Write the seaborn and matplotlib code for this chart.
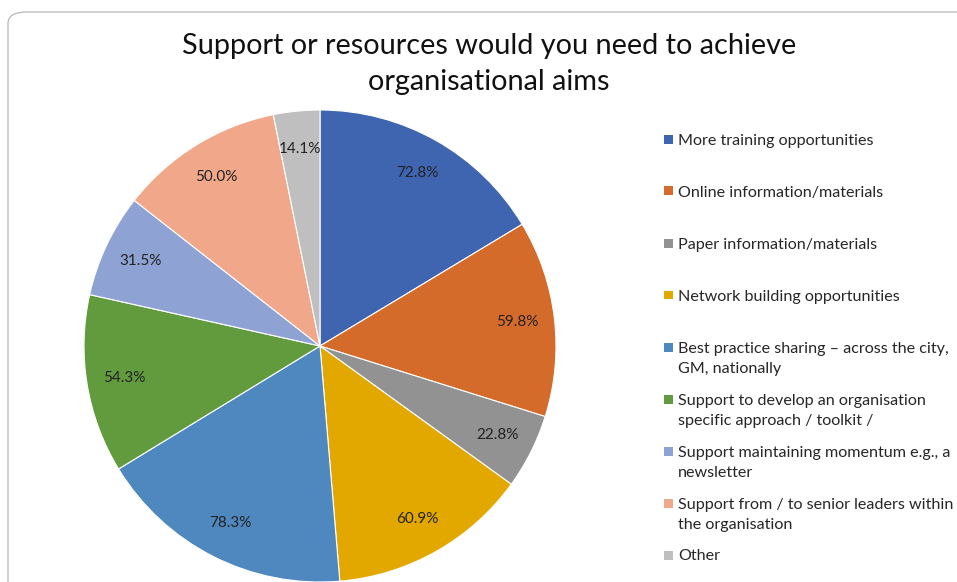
import matplotlib
matplotlib.use("Agg")
import matplotlib.pyplot as plt
from matplotlib.patches import FancyBboxPatch, Rectangle
import seaborn as sns

sns.set_theme(style="white")
plt.rcParams['font.family'] = ['Lato', 'DejaVu Sans']

title = "Support or resources would you need to achieve\norganisational aims"
categories = [
    "More training opportunities",
    "Online information/materials",
    "Paper information/materials",
    "Network building opportunities",
    "Best practice sharing \u2013 across the city,\nGM, nationally",
    "Support to develop an organisation\nspecific approach / toolkit /",
    "Support maintaining momentum e.g., a\nnewsletter",
    "Support from / to senior leaders within\nthe organisation",
    "Other",
]
values = [72.8, 59.8, 22.8, 60.9, 78.3, 54.3, 31.5, 50.0, 14.1]
colors = ["#3F65B0", "#D56B2A", "#929292", "#E2A800", "#4F88BE",
          "#629B3E", "#8FA2D4", "#F0A78A", "#BFBFBF"]

W, H = 957, 582
fig = plt.figure(figsize=(W / 100, H / 100), dpi=100)
fig.patch.set_facecolor("white")

# outer chart border (rounded, partially cropped)
border = FancyBboxPatch((8 / W, -0.1), 1.2, 1.1 - 12 / H,
                        boxstyle="round,pad=0,rounding_size=0.02",
                        transform=fig.transFigure, facecolor="none",
                        edgecolor="#BDBDBD", linewidth=1.0, zorder=0)
fig.patches.append(border)

cx, cy, R = 320, 346, 236
ax = fig.add_axes([(cx - R) / W, (H - cy - R) / H, 2 * R / W, 2 * R / H])
wedges, texts, autotexts = ax.pie(
    values, colors=colors, startangle=90, counterclock=False,
    autopct=lambda p: "", pctdistance=0.84, radius=1.0,
    wedgeprops=dict(edgecolor="white", linewidth=0.8))
for at, v in zip(autotexts, values):
    at.set_text(f"{v:.1f}%")
    at.set_fontsize(11)
    at.set_color("#222222")
ax.set_xlim(-1, 1)
ax.set_ylim(-1, 1)
ax.set_aspect("equal")
ax.axis("off")

fig.text(489 / W, 1 - 64 / H, title, ha="center", va="center",
         fontsize=20.8, color="#111111", linespacing=1.45)

# legend
y0, step = 139, 52
for i, (lab, col) in enumerate(zip(categories, colors)):
    yc = y0 + i * step
    fig.patches.append(Rectangle((664 / W, 1 - (yc + 4.5) / H), 9 / W, 9 / H,
                                 transform=fig.transFigure, facecolor=col,
                                 edgecolor="none"))
    fig.text(678 / W, 1 - (yc - 5.5) / H, lab, ha="left", va="top",
             fontsize=11.6, color="#262626", linespacing=1.55)

fig.savefig("out.png", dpi=100)
